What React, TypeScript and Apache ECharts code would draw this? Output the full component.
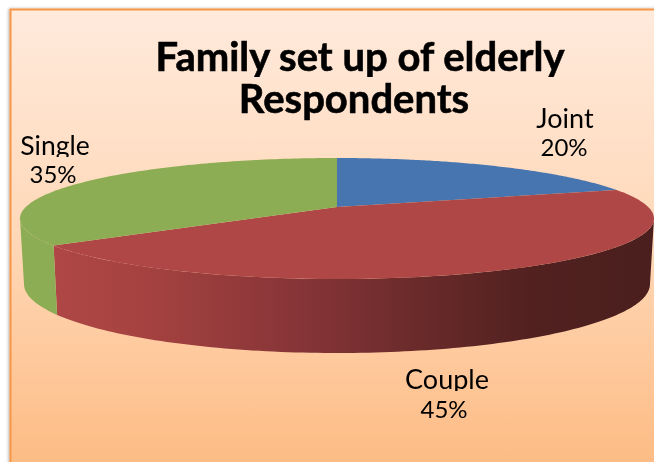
import React, { useEffect, useRef } from "react";
import * as echarts from "echarts";

const categories = ["Joint", "Couple", "Single"];
const values = [20, 45, 35];
const titleLines = ["Family set up of elderly", "Respondents"];

const topColors = ["#4675AF", "#AE4745", "#8DAD54"];
const SANS = "Lato, Carlito, 'Open Sans', sans-serif";

// Top rim and bottom rim of the tilted disc, plus how strongly perspective pulls the apex back.
const TOP = { cx: 337, cy: 218.5, rx: 317, ry: 60.5 };
const BOTTOM = { cx: 337, cy: 284, rx: 313, ry: 69 };
const TILT = 0.19;

// Angles, clockwise from the back of the disc, where the rim turns out of sight.
const WALL_START = Math.acos(-TILT);
const WALL_END = Math.PI * 2 - WALL_START;

const project = (rim: typeof TOP, theta: number): [number, number] => {
  const u = Math.sin(theta);
  const v = Math.cos(theta);
  const w = 1 + TILT * v;
  return [
    rim.cx + (rim.rx * Math.sqrt(1 - TILT * TILT) * u) / w,
    rim.cy - (rim.ry * (v + TILT)) / w,
  ];
};

const arc = (rim: typeof TOP, from: number, to: number): [number, number][] => {
  const steps = 120;
  const pts: [number, number][] = [];
  for (let i = 0; i <= steps; i++) pts.push(project(rim, from + ((to - from) * i) / steps));
  return pts;
};

const toPath = (pts: [number, number][]) =>
  "M" + pts.map((p) => p[0].toFixed(2) + " " + p[1].toFixed(2)).join("L") + "Z";

const pageGradient = () =>
  new echarts.graphic.LinearGradient(
    0, 10, 0, 462,
    [
      { offset: 0, color: "#FFEADC" },
      { offset: 0.5, color: "#FFD8B8" },
      { offset: 1, color: "#FDBC85" },
    ],
    true,
  );

const wallFills = [
  "#3A5F8F",
  new echarts.graphic.LinearGradient(
    55, 0, 650, 0,
    [
      { offset: 0, color: "#AE4745" },
      { offset: 0.15, color: "#A54240" },
      { offset: 0.4, color: "#883538" },
      { offset: 0.6, color: "#6C2B2B" },
      { offset: 0.8, color: "#512120" },
      { offset: 1, color: "#4A1F1D" },
    ],
    true,
  ),
  "#8DAD54",
];

const total = values.reduce((a, b) => a + b, 0);
const percent = (i: number) => Math.round((values[i] / total) * 100) + "%";

const renderSlice = (params: any, api: any) => {
  const i = params.dataIndex;
  const before = values.slice(0, i).reduce((a, b) => a + b, 0);
  const from = (before / total) * Math.PI * 2;
  const to = from + ((api.value(0) as number) / total) * Math.PI * 2;
  const centre: [number, number] = [TOP.cx, TOP.cy - TOP.ry * TILT];
  const children: any[] = [];
  const wallFrom = Math.max(from, WALL_START);
  const wallTo = Math.min(to, WALL_END);
  if (wallTo > wallFrom) {
    children.push({
      type: "path",
      z2: 1,
      shape: {
        pathData: toPath([...arc(TOP, wallFrom, wallTo), ...arc(BOTTOM, wallFrom, wallTo).reverse()]),
      },
      style: { fill: wallFills[i] },
    });
  }
  children.push({
    type: "path",
    z2: 5,
    shape: { pathData: toPath([centre, ...arc(TOP, from, to)]) },
    style: { fill: topColors[i] },
  });
  return { type: "group", children };
};

// baseline is the text's foot; text boxes are placed from their top edge, about 0.89em above it.
const text = (t: string, x: number, baseline: number, size: number, weight: string, z2: number) => ({
  type: "text",
  z: 5,
  z2,
  x,
  y: baseline - size * 0.89,
  style: {
    text: t,
    fontFamily: SANS,
    fontSize: size,
    fontWeight: weight,
    fill: "#000000",
    align: "center",
    stroke: weight === "bold" ? "#000000" : "none",
    lineWidth: weight === "bold" ? 0.6 : 0,
  },
});

// Lines sit tight enough that the next line's box trims the descenders above it.
const trim = (x: number, y: number, width: number, height: number, z2: number) => ({
  type: "rect",
  z: 5,
  z2,
  shape: { x, y, width, height },
  style: { fill: pageGradient() },
});

export default function App() {
  const ref = useRef<HTMLDivElement>(null);
  useEffect(() => {
    const chart = echarts.init(ref.current!, undefined, { renderer: "svg" });
    chart.setOption({
      animation: false,
      graphic: [
        {
          type: "rect",
          z: -1,
          shape: { x: 10.5, y: 9.5, width: 670, height: 480 },
          style: {
            fill: pageGradient(),
            stroke: "#F79646",
            lineWidth: 2,
            shadowBlur: 3,
            shadowOffsetX: -1,
            shadowColor: "rgba(0,0,0,0.3)",
          },
        },
        text(titleLines[0], 360, 72, 40, "bold", 1),
        trim(150, 77, 425, 6, 2),
        text(titleLines[1], 354, 114, 40, "bold", 3),
        text(categories[0], 565, 128, 27, "normal", 1),
        text(percent(0), 564, 156, 24, "normal", 1),
        text(categories[2], 55, 155, 26.5, "normal", 1),
        trim(15, 157, 80, 7, 2),
        text(percent(2), 53, 183, 24, "normal", 3),
        text(categories[1], 447, 389, 27, "normal", 1),
        trim(400, 391, 95, 6, 2),
        text(percent(1), 444, 418, 24, "normal", 3),
      ],
      series: [
        {
          type: "custom",
          coordinateSystem: "none",
          silent: true,
          clip: false,
          data: values.map((v) => [v]),
          renderItem: renderSlice,
        },
      ],
    });
    return () => chart.dispose();
  }, []);
  return <div ref={ref} style={{ position: "fixed", left: 0, top: 0, width: 654, height: 462 }} />;
}
